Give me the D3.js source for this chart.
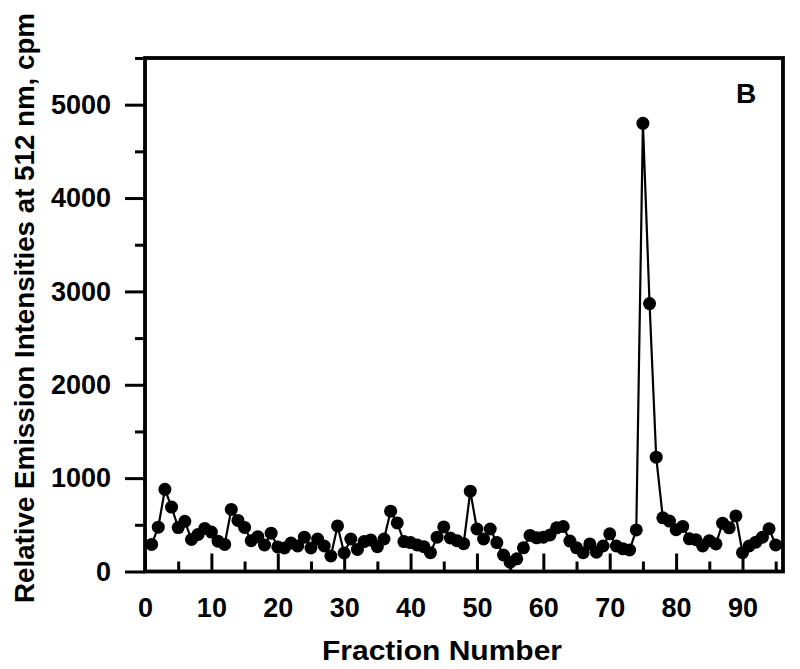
<!DOCTYPE html>
<html>
<head>
<meta charset="utf-8">
<script src="https://cdn.jsdelivr.net/npm/d3@7"></script>
<style>
  body { margin: 0; background: #fff; }
  text { font-family: "Liberation Sans", Arial, sans-serif; font-weight: bold; fill: #000; }
</style>
</head>
<body>
<svg width="800" height="669"></svg>
<script>
// fraction numbers 1..95 and the counts
var fractions = d3.range(1, 96);
var intensities = [
  290, 475, 880, 690, 470, 537, 343, 397, 461, 422,
  325, 290, 665, 547, 472, 330, 373, 284, 410, 263,
  252, 305, 273, 368, 252, 348, 273, 166, 488, 198,
  348, 236, 320, 338, 266, 348, 646, 520, 320, 310,
  284, 266, 202, 368, 477, 359, 330, 298, 860, 455,
  348, 455, 310, 177, 100, 136, 254, 386, 361, 368,
  391, 468, 482, 326, 254, 202, 295, 207, 273, 404,
  273, 243, 230, 445, 4800, 2870, 1225, 575, 540, 447,
  483, 350, 340, 273, 330, 295, 518, 468, 595, 202,
  273, 314, 368, 458, 284
];
var xMajor = [0, 10, 20, 30, 40, 50, 60, 70, 80, 90];
var xMinor = [5, 15, 25, 35, 45, 55, 65, 75, 85, 95];
var yMajor = [0, 1000, 2000, 3000, 4000, 5000];
var yMinor = [500, 1500, 2500, 3500, 4500, 5500];

var svg = d3.select("svg");
// plot box edges (note: "top" is taken by window.top)
var pLeft = 145, pRight = 783, pTop = 58, pBottom = 571.5;

var x = d3.scaleLinear().domain([0, 96.1]).range([pLeft, pRight]);
var y = d3.scaleLinear().domain([0, 5500]).range([pBottom, pTop]);

// x axis, ticks pointing into the plot
var xg = svg.append("g").attr("transform", "translate(0," + pBottom + ")");
xg.call(d3.axisBottom(x).tickValues(xMajor).tickSize(-18).tickPadding(26).tickFormat(d3.format("d")));
xg.append("g").call(d3.axisBottom(x).tickValues(xMinor).tickSize(-10).tickFormat(""));
xg.selectAll(".domain").remove();
xg.selectAll("line").attr("stroke", "#000").attr("stroke-width", 3);
xg.selectAll("text").style("font-size", "27px").attr("fill", "#000");

// y axis, ticks pointing out
var yg = svg.append("g").attr("transform", "translate(" + pLeft + ",0)");
yg.call(d3.axisLeft(y).tickValues(yMajor).tickSize(20).tickPadding(14).tickFormat(d3.format("d")));
yg.append("g").call(d3.axisLeft(y).tickValues(yMinor).tickSize(10).tickFormat(""));
yg.selectAll(".domain").remove();
yg.selectAll("line").attr("stroke", "#000").attr("stroke-width", 3);
yg.selectAll("text").style("font-size", "27px").attr("fill", "#000");

// frame
svg.append("rect")
  .attr("x", pLeft).attr("y", pTop)
  .attr("width", pRight - pLeft).attr("height", pBottom - pTop)
  .attr("fill", "none").attr("stroke", "#000").attr("stroke-width", 3.8);

var data = fractions.map(function(f, i) { return {f: f, v: intensities[i]}; });

svg.append("path")
  .datum(data)
  .attr("fill", "none")
  .attr("stroke", "#000")
  .attr("stroke-width", 2.2)
  .attr("d", d3.line().x(function(d) { return x(d.f); }).y(function(d) { return y(d.v); }));

svg.append("g").selectAll("circle")
  .data(data)
  .enter().append("circle")
    .attr("cx", function(d) { return x(d.f); })
    .attr("cy", function(d) { return y(d.v); })
    .attr("r", 6.5)
    .attr("fill", "#000");

// labels
svg.append("text")
  .attr("x", 442).attr("y", 660)
  .attr("text-anchor", "middle")
  .attr("textLength", 240)
  .attr("lengthAdjust", "spacingAndGlyphs")
  .style("font-size", "28px")
  .text("Fraction Number");

svg.append("text")
  .attr("transform", "translate(34,308) rotate(-90)")
  .attr("text-anchor", "middle")
  .attr("textLength", 590)
  .attr("lengthAdjust", "spacingAndGlyphs")
  .style("font-size", "28px")
  .text("Relative Emission Intensities at 512 nm, cpm");

svg.append("text")
  .attr("x", 746).attr("y", 103)
  .attr("text-anchor", "middle")
  .style("font-size", "28px")
  .text("B");
</script>
</body>
</html>
